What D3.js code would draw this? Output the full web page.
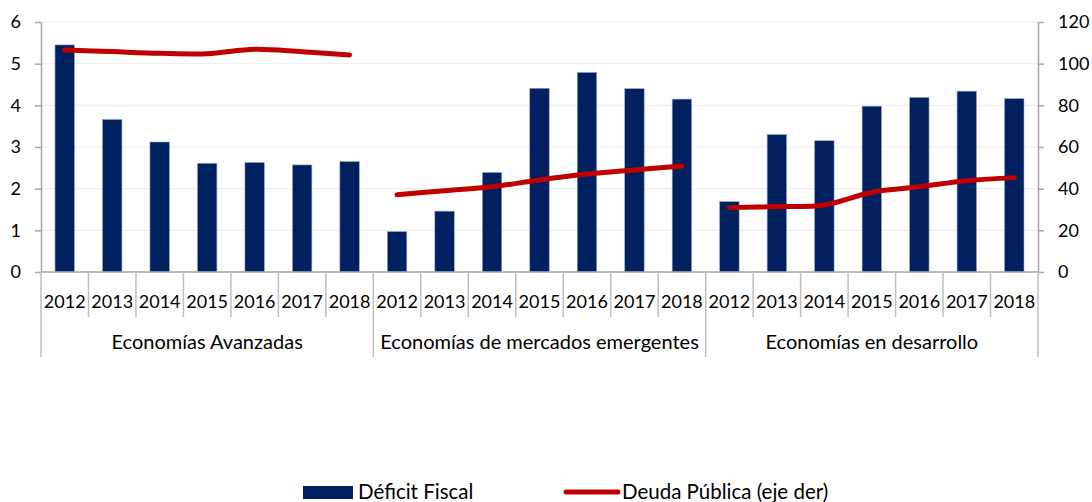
<!DOCTYPE html>
<html>
<head>
<meta charset="utf-8">
<script src="https://cdn.jsdelivr.net/npm/d3@7"></script>
<style>
  body { margin: 0; background: #fff; }
  text { font-family: Lato, "Open Sans", sans-serif; fill: #000; }
</style>
</head>
<body>
<svg id="svg" width="1092" height="502"></svg>
<script>
var groups = ["Economías Avanzadas", "Economías de mercados emergentes", "Economías en desarrollo"];
var years = ["2012", "2013", "2014", "2015", "2016", "2017", "2018"];

// Déficit Fiscal (eje izq)
var deficitAvz = [5.45, 3.66, 3.12, 2.61, 2.63, 2.57, 2.65];
var deficitEme = [0.97, 1.46, 2.39, 4.41, 4.79, 4.40, 4.15];
var deficitDes = [1.69, 3.30, 3.15, 3.98, 4.19, 4.34, 4.16];

// Deuda Pública (eje der)
var deudaAvz = [106.6, 105.8, 105.0, 104.8, 106.9, 105.7, 104.2];
var deudaEme = [37.1, 39.0, 40.9, 44.2, 47.0, 49.0, 50.9];
var deudaDes = [30.9, 31.4, 32.2, 38.3, 40.9, 43.8, 45.3];

var leftTicks = [0, 1, 2, 3, 4, 5, 6];
var rightTicks = [0, 20, 40, 60, 80, 100, 120];

var deficit = [deficitAvz, deficitEme, deficitDes];
var deuda = [deudaAvz, deudaEme, deudaDes];

var svg = d3.select("#svg");

var plotLeft = 41, plotRight = 1038, plotTop = 22, plotBottom = 272;

var keys = [];
groups.forEach(function(g, gi) {
  years.forEach(function(y, yi) { keys.push(gi + "-" + yi); });
});

var x = d3.scaleBand().domain(keys).range([plotLeft, plotRight]).padding(0);
var yL = d3.scaleLinear().domain([0, 6]).range([plotBottom, plotTop]);
var yR = d3.scaleLinear().domain([0, 120]).range([plotBottom, plotTop]);

// gridlines
svg.append("g").selectAll("line")
  .data(leftTicks.slice(1))
  .enter().append("line")
    .attr("x1", plotLeft).attr("x2", plotRight)
    .attr("y1", function(d) { return yL(d); })
    .attr("y2", function(d) { return yL(d); })
    .attr("stroke", "#efefef")
    .attr("stroke-width", 1.2);

// bars
var barW = x.bandwidth() * 0.41;
var barData = [];
deficit.forEach(function(arr, gi) {
  arr.forEach(function(v, yi) { barData.push({ key: gi + "-" + yi, v: v }); });
});
svg.append("g").selectAll("rect")
  .data(barData)
  .enter().append("rect")
    .attr("x", function(d) { return x(d.key) + (x.bandwidth() - barW) / 2; })
    .attr("y", function(d) { return yL(d.v); })
    .attr("width", barW)
    .attr("height", function(d) { return plotBottom - yL(d.v); })
    .attr("fill", "#002060")
    .attr("stroke", "#9aa6c2")
    .attr("stroke-width", 0.6);

// debt lines
var line = d3.line()
  .x(function(d) { return x(d.key) + x.bandwidth() / 2; })
  .y(function(d) { return yR(d.v); })
  .curve(d3.curveCatmullRom.alpha(0.5));

deuda.forEach(function(arr, gi) {
  svg.append("path")
    .datum(arr.map(function(v, yi) { return { key: gi + "-" + yi, v: v }; }))
    .attr("d", line)
    .attr("fill", "none")
    .attr("stroke", "#c00000")
    .attr("stroke-width", 5)
    .attr("stroke-linecap", "round")
    .attr("stroke-linejoin", "round");
});

// left axis
var axL = svg.append("g")
  .attr("transform", "translate(" + plotLeft + ",0)")
  .call(d3.axisLeft(yL).tickValues(leftTicks).tickFormat(d3.format("d"))
    .tickSize(6).tickSizeOuter(0).tickPadding(14));
axL.select(".domain").attr("stroke", "#a6a6a6").attr("stroke-width", 1.5);
axL.selectAll(".tick line").attr("stroke", "#a6a6a6").attr("stroke-width", 1.5);
axL.selectAll("text").style("font-size", "18px").style("font-family", "Lato");

// right axis
var axR = svg.append("g")
  .attr("transform", "translate(" + plotRight + ",0)")
  .call(d3.axisRight(yR).tickValues(rightTicks).tickFormat(d3.format("d"))
    .tickSize(6).tickSizeOuter(0).tickPadding(14));
axR.select(".domain").attr("stroke", "#a6a6a6").attr("stroke-width", 1.5);
axR.selectAll(".tick line").attr("stroke", "#a6a6a6").attr("stroke-width", 1.5);
axR.selectAll("text").style("font-size", "18px").style("font-family", "Lato");

// category axis
var cat = svg.append("g");
cat.append("line")
  .attr("x1", plotLeft).attr("x2", plotRight)
  .attr("y1", plotBottom).attr("y2", plotBottom)
  .attr("stroke", "#a6a6a6").attr("stroke-width", 1.5);

keys.forEach(function(k, i) {
  var yi = i % years.length;
  var isGroupEdge = yi === 0;
  cat.append("line")
    .attr("x1", x(k)).attr("x2", x(k))
    .attr("y1", plotBottom).attr("y2", isGroupEdge ? 357 : 317)
    .attr("stroke", "#bfbfbf").attr("stroke-width", 1.5);
  cat.append("text")
    .attr("x", x(k) + x.bandwidth() / 2)
    .attr("y", 302)
    .attr("dy", "0.35em")
    .attr("text-anchor", "middle")
    .style("font-size", "18px")
    .text(years[yi]);
});
cat.append("line")
  .attr("x1", plotRight).attr("x2", plotRight)
  .attr("y1", plotBottom).attr("y2", 357)
  .attr("stroke", "#bfbfbf").attr("stroke-width", 1.5);

groups.forEach(function(g, gi) {
  var x0 = x(gi + "-0"), x1 = x(gi + "-" + (years.length - 1)) + x.bandwidth();
  cat.append("text")
    .attr("x", (x0 + x1) / 2)
    .attr("y", 342)
    .attr("dy", "0.35em")
    .attr("text-anchor", "middle")
    .style("font-size", "20px")
    .text(g);
});

// legend
var lg = svg.append("g");
lg.append("rect")
  .attr("x", 303).attr("y", 486).attr("width", 50).attr("height", 13)
  .attr("fill", "#002060");
lg.append("text")
  .attr("x", 358).attr("y", 492).attr("dy", "0.35em")
  .style("font-size", "20.5px")
  .text("Déficit Fiscal");
lg.append("line")
  .attr("x1", 566).attr("x2", 618).attr("y1", 492).attr("y2", 492)
  .attr("stroke", "#c00000").attr("stroke-width", 5).attr("stroke-linecap", "round");
lg.append("text")
  .attr("x", 622).attr("y", 492).attr("dy", "0.35em")
  .style("font-size", "20.5px")
  .text("Deuda Pública (eje der)");
</script>
</body>
</html>
